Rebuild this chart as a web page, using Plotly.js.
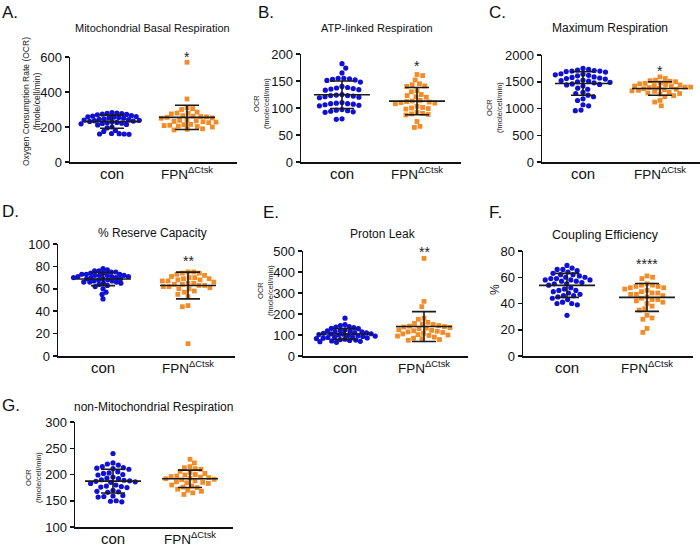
<!DOCTYPE html>
<html><head><meta charset="utf-8">
<script src="https://cdn.plot.ly/plotly-3.0.1.min.js"></script>
<style>html,body{margin:0;padding:0;background:#fff}#chart{width:700px;height:546px}</style>
</head><body><div id="chart"></div>
<script>
// ---------- data ----------
const groups = ["con", "<span style='font-size:13.5px'>FPN<sup>ΔCtsk</sup></span>"];

const conA = [282,280,278,276,274,272,270,265,262,260,258,256,254,252,250,246,244,242,240,238,236,234,232,230,226,224,222,220,218,215,212,200,195,180,175,163,162,160,160,158];
const fpnA = [570,360,310,305,300,285,280,278,275,265,262,260,258,255,252,250,240,238,235,232,230,228,225,215,213,210,208,205,203,200,190,187,183];

const conB = [182,174,165,155,155,154,153,152,151,148,140,138,137,136,135,134,133,125,124,123,123,122,121,120,119,110,109,108,108,107,106,105,104,97,96,95,94,93,92,80,79];
const fpnB = [162,160,152,145,143,141,140,132,130,125,123,121,120,114,113,112,111,110,109,108,103,101,100,99,98,92,90,89,88,87,75,66,64];

const conC = [1750,1730,1720,1710,1700,1700,1690,1680,1650,1640,1630,1620,1610,1590,1580,1570,1560,1550,1530,1520,1510,1500,1490,1480,1460,1450,1440,1420,1380,1360,1300,1280,1250,1220,1180,1150,1070,1050,970,960];
const fpnC = [1590,1560,1530,1520,1510,1500,1480,1470,1460,1450,1440,1430,1420,1410,1400,1400,1390,1380,1370,1360,1350,1340,1330,1320,1300,1290,1280,1270,1240,1220,1150,1120,1050];

const conD = [78,77,76,76,75,75,74,74,73,73,73,72,72,72,72,71,71,71,70,70,70,69,69,69,68,68,67,67,66,66,66,65,65,64,63,62,60,57,55,51];
const fpnD = [75,75,74,74,73,72,71,70,70,69,69,68,68,67,67,66,65,65,64,64,63,63,62,62,61,60,60,58,57,55,53,45,44,11];

const conE = [180,150,145,140,138,135,132,130,125,122,120,118,116,115,112,110,108,106,105,104,102,100,98,96,95,93,92,90,88,86,85,83,80,78,76,74,72,70,68,65];
const fpnE = [465,260,235,180,175,160,155,152,150,145,142,140,138,135,132,130,125,122,120,118,115,112,108,105,102,100,98,95,90,85,82,78,75];

const conF = [69,67,66,66,65,64,63,62,62,61,60,60,59,59,58,58,58,57,57,56,55,55,54,52,51,50,50,49,48,47,46,46,45,44,43,41,40,40,39,31];
const fpnF = [61,60,59,55,54,54,53,53,52,52,51,50,49,48,48,47,47,46,45,44,43,43,42,41,40,38,36,35,31,29,28,21,18];

const conG = [240,222,220,218,215,213,212,211,210,205,203,202,200,199,195,193,192,190,189,188,187,186,185,183,180,178,177,176,175,170,168,167,166,160,159,158,157,150,149,148];
const fpnG = [229,222,215,213,211,210,206,204,202,200,199,197,196,195,194,193,192,191,190,188,186,185,184,183,180,178,176,175,172,170,168,165,162];

const titles = ["Mitochondrial Basal Respiration","ATP-linked Respiration","Maximum Respiration","% Reserve Capacity","Proton Leak","Coupling Efficiency","non-Mitochondrial Respiration"];
const letters = ["A.","B.","C.","D.","E.","F.","G."];
const yTitles = ["Oxygen Consumption Rate (OCR)<br>(fmole/cell/min)","OCR<br>(fmole/cell/min)","OCR<br>(fmole/cell/min)","","OCR<br>(fmole/cell/min)","%","OCR<br>(fmole/cell/min)"];
const stars = ["*","*","*","**","**","****",""];
const yRanges = [[0,600],[0,200],[0,2000],[0,100],[0,500],[0,80],[100,300]];
const yDticks = [200,50,500,20,100,20,50];
const dataSets = [[conA,fpnA],[conB,fpnB],[conC,fpnC],[conD,fpnD],[conE,fpnE],[conF,fpnF],[conG,fpnG]];

// ---------- layout geometry (pixels) ----------
const W = 700, H = 546;
const geo = [
  {box:[70,237,57,162], cx:112, fx:187, tx:152, ty:28, tsize:11, lx:0, ly:12, sy:54, yx:31, yy:102, ysize:8.5},
  {box:[301,461,54,162], cx:342, fx:417, tx:377, ty:28, tsize:11, lx:256, ly:12, sy:63, yx:261, yy:104, ysize:7.5},
  {box:[542,700,55,162], cx:583, fx:660, tx:610, ty:28, tsize:12, lx:487, ly:12, sy:68, yx:495, yy:108, ysize:7.5},
  {box:[58,235,244,356], cx:103, fx:188, tx:152, ty:233, tsize:12, lx:0, ly:212, sy:258, yx:0, yy:0, ysize:8},
  {box:[303,468,251,356], cx:345, fx:424, tx:383, ty:234, tsize:12, lx:261, ly:213, sy:249, yx:265, yy:291, ysize:7.5},
  {box:[523,693,251,356], cx:567, fx:647, tx:605, ty:235, tsize:12.5, lx:487, ly:213, sy:261, yx:495, yy:290, ysize:12},
  {box:[75,233,422,527], cx:113, fx:190, tx:153, ty:407, tsize:12, lx:0, ly:405, sy:0, yx:33, yy:478, ysize:7.5}
];

const FONT = "Liberation Sans, Arial, Helvetica, sans-serif";
const BLUE = "#1010d2", ORANGE = "#f28c28";
const DOT = 5.2, MAXHALF = 31;

function meanSd(a){
  const m = a.reduce((s,v)=>s+v,0)/a.length;
  const sd = Math.sqrt(a.reduce((s,v)=>s+(v-m)*(v-m),0)/(a.length-1));
  return [m, sd];
}

// beeswarm offsets (pixels) computed from values
function swarmOnce(values, pxPerUnit, d){
  const order = values.map((v,i)=>i).sort((a,b)=>values[b]-values[a]);
  const placed = [];
  const off = new Array(values.length).fill(0);
  let flip = 1;
  for (const i of order){
    const y = values[i]*pxPerUnit;
    const near = placed.filter(p=>Math.abs(p.y-y) < d);
    const cands = [0];
    near.forEach(p=>{
      const w = Math.sqrt(d*d - (p.y-y)*(p.y-y));
      cands.push(p.x + w + 0.01, p.x - w - 0.01);
    });
    const valid = cands.filter(c=>near.every(p=>{
      const dx=c-p.x, dy=y-p.y; return dx*dx+dy*dy >= d*d*0.999;
    }));
    valid.sort((a,b)=>{
      const da=Math.abs(a), db=Math.abs(b);
      if (Math.abs(da-db)<0.3) return flip*(a-b);
      return da-db;
    });
    const x = valid[0];
    flip = -flip;
    off[i] = x;
    placed.push({x:x, y:y});
  }
  return off;
}
function swarm(values, pxPerUnit){
  let d = DOT + 0.5, off;
  while (true){
    off = swarmOnce(values, pxPerUnit, d);
    const mx = Math.max(...off.map(Math.abs));
    if (mx <= MAXHALF || d < 2.6) break;
    d -= 0.2;
  }
  return off;
}

const traces = [];
const layout = {
  width: W, height: H, margin:{l:0,r:0,t:0,b:0},
  paper_bgcolor:"#fff", plot_bgcolor:"#fff", showlegend:false,
  font:{family:FONT, color:"#111"}, annotations:[]
};

dataSets.forEach((pair, p)=>{
  const g = geo[p];
  const [L,R,T,B] = g.box;
  const sx = g.fx - g.cx;              // px per x unit
  const x0 = -(g.cx - L)/sx;
  const x1 = x0 + (R-L)/sx;
  const yr = yRanges[p];
  const sy = (B-T)/(yr[1]-yr[0]);       // px per y unit
  const n = p===0 ? "" : String(p+1);
  const xa = "x"+n, ya = "y"+n;

  pair.forEach((vals, gi)=>{
    const offs = swarm(vals, sy);
    traces.push({
      type:"scatter", mode:"markers", xaxis:xa, yaxis:ya, hoverinfo:"skip",
      x: vals.map((v,i)=>gi + offs[i]/sx), y: vals,
      marker:{symbol: gi===0?"circle":"square", size: gi===0?DOT:DOT-0.4,
              color: gi===0?BLUE:ORANGE, line:{width:0}}
    });
  });
  // mean lines and SD bars
  const stats = pair.map(meanSd);
  const hw = 28/sx;
  stats.forEach((s,gi)=>{
    traces.push({type:"scatter", mode:"lines", xaxis:xa, yaxis:ya, hoverinfo:"skip",
      x:[gi-hw, gi+hw], y:[s[0], s[0]], line:{color:"#1a1a1a", width:1.6}});
  });
  traces.push({type:"scatter", mode:"markers", xaxis:xa, yaxis:ya, hoverinfo:"skip",
    x:[0,1], y:stats.map(s=>s[0]), marker:{size:1, opacity:0},
    error_y:{type:"data", array:stats.map(s=>s[1]), symmetric:true, width:12, thickness:1.6, color:"#1a1a1a"}});

  layout["xaxis"+n] = {
    domain:[L/W, R/W], range:[x0,x1], anchor:ya,
    tickvals:[0,1], ticktext:groups, ticks:"", showgrid:false, zeroline:false,
    showline:true, linecolor:"#111", linewidth:1.5, ticklabelstandoff:-3,
    tickfont:{size:15, family:FONT, color:"#111"}, fixedrange:true
  };
  layout["yaxis"+n] = {
    domain:[1-B/H, 1-T/H], range:yr, anchor:xa, dtick:yDticks[p], tick0:0,
    ticks:"outside", ticklen:4, tickwidth:1.5, tickcolor:"#111",
    showgrid:false, zeroline:false, showline:true, linecolor:"#111", linewidth:1.5,
    tickfont:{size:13, family:FONT, color:"#111"}, fixedrange:true
  };
  layout.annotations.push({xref:"paper", yref:"paper", x:g.tx/W, y:1-g.ty/H, xanchor:"center", yanchor:"middle",
    text:titles[p], showarrow:false, font:{size:g.tsize, family:FONT, color:"#111"}});
  layout.annotations.push({xref:"paper", yref:"paper", x:g.lx/W, y:1-g.ly/H, xanchor:"left", yanchor:"middle",
    text:letters[p], showarrow:false, font:{size:17, family:FONT, color:"#111"}});
  if (yTitles[p]) layout.annotations.push({xref:"paper", yref:"paper", x:g.yx/W, y:1-g.yy/H, xanchor:"center", yanchor:"middle",
    text:yTitles[p], textangle:-90, showarrow:false, font:{size:g.ysize, family:FONT, color:"#222"}});
  if (stars[p]) layout.annotations.push({xref:xa, yref:"paper", x:1, y:1-(g.sy+3)/H, xanchor:"center", yanchor:"middle",
    text:stars[p], showarrow:false, font:{size:14, family:FONT, color:"#222"}});
});

Plotly.newPlot("chart", traces, layout, {displayModeBar:false, staticPlot:true});
</script>
</body></html>
